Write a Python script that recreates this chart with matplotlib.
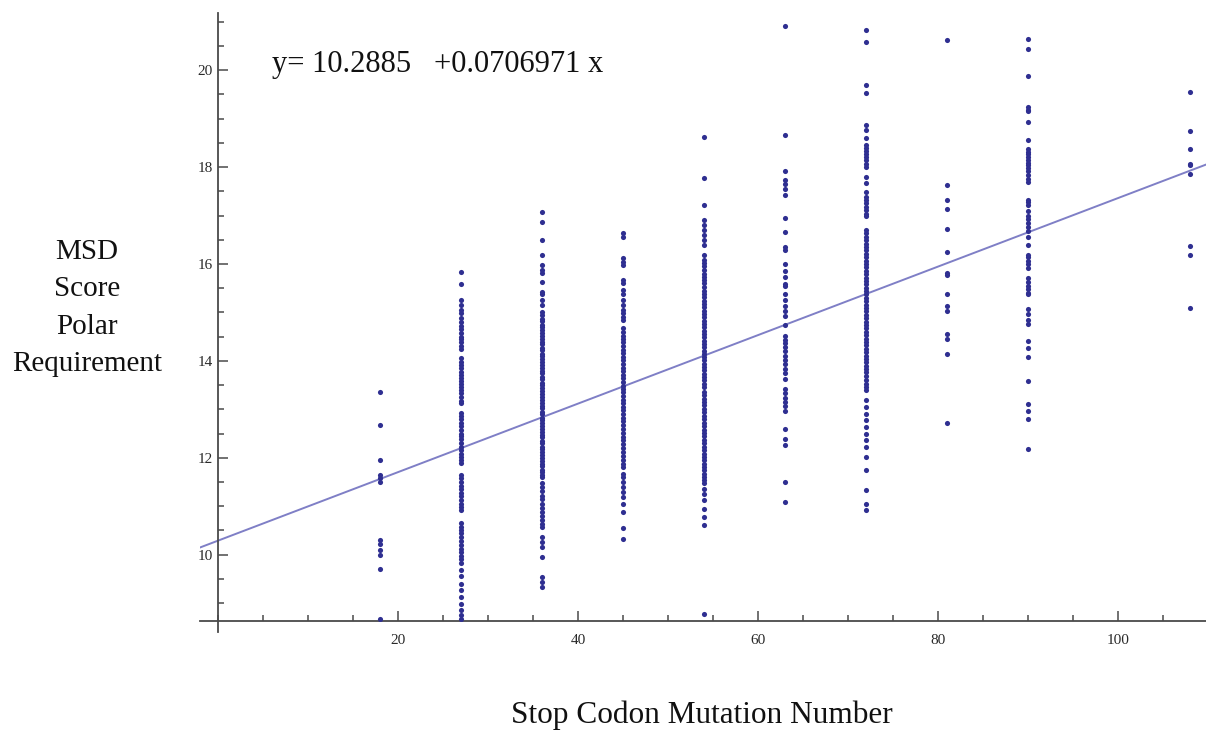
import numpy as np
import matplotlib
matplotlib.use('Agg')
import matplotlib.pyplot as plt
from matplotlib.ticker import MultipleLocator

plt.rcParams['font.family'] = ['Liberation Serif', 'DejaVu Serif']

# ===========DATA==============================================================
# stop codon mutation numbers (one column of points each)
stops = [18, 27, 36, 45, 54, 63, 72, 81, 90, 108]

msd_18 = [13.36, 12.67, 11.95, 11.64, 11.58, 11.49, 10.31, 10.21, 10.10, 9.99,
          9.71, 8.68]

msd_27 = [15.84, 15.58, 15.25, 15.15, 15.05, 14.98, 14.88, 14.80, 14.72, 14.65,
          14.58, 14.50, 14.45, 14.38, 14.30, 14.25, 14.05, 13.98, 13.92, 13.85,
          13.78, 13.70, 13.65, 13.58, 13.52, 13.45, 13.40, 13.33, 13.25, 13.18,
          13.12, 12.92, 12.86, 12.80, 12.72, 12.65, 12.58, 12.50, 12.45, 12.38,
          12.30, 12.22, 12.15, 12.08, 12.02, 11.95, 11.89, 11.64, 11.58, 11.50,
          11.42, 11.35, 11.28, 11.20, 11.12, 11.05, 10.98, 10.92, 10.65, 10.58,
          10.50, 10.44, 10.36, 10.28, 10.20, 10.12, 10.05, 9.98, 9.90, 9.82,
          9.68, 9.55, 9.40, 9.26, 9.12, 8.98, 8.85, 8.75, 8.68]

msd_36 = [17.08, 16.87, 16.49, 16.18, 15.98, 15.87, 15.81, 15.63, 15.43, 15.39,
          15.25, 15.15, 15.01, 14.95, 14.87, 14.82, 14.75, 14.70, 14.63, 14.58,
          14.51, 14.46, 14.39, 14.34, 14.27, 14.22, 14.15, 14.10, 14.03, 13.98,
          13.91, 13.86, 13.79, 13.74, 13.67, 13.62, 13.55, 13.50, 13.43, 13.38,
          13.31, 13.26, 13.19, 13.14, 13.07, 13.02, 12.95, 12.90, 12.83, 12.78,
          12.71, 12.66, 12.59, 12.54, 12.47, 12.42, 12.35, 12.30, 12.23, 12.18,
          12.11, 12.06, 11.99, 11.94, 11.87, 11.82, 11.75, 11.70, 11.64, 11.60,
          11.47, 11.40, 11.31, 11.22, 11.15, 11.05, 10.96, 10.88, 10.80, 10.72,
          10.64, 10.57, 10.36, 10.26, 10.16, 9.95, 9.54, 9.43, 9.33]

msd_45 = [16.63, 16.56, 16.12, 16.05, 15.98, 15.67, 15.60, 15.46, 15.39, 15.25,
          15.15, 15.05, 14.98, 14.91, 14.84, 14.67, 14.60, 14.52, 14.45, 14.38,
          14.30, 14.23, 14.16, 14.08, 14.01, 13.94, 13.86, 13.79, 13.71, 13.64,
          13.57, 13.49, 13.42, 13.35, 13.27, 13.20, 13.12, 13.05, 12.98, 12.91,
          12.83, 12.75, 12.67, 12.59, 12.51, 12.43, 12.36, 12.28, 12.20, 12.12,
          12.04, 11.96, 11.88, 11.81, 11.67, 11.60, 11.50, 11.40, 11.29, 11.19,
          11.05, 10.88, 10.54, 10.33]

msd_54 = [18.63, 17.77, 17.22, 16.91, 16.80, 16.70, 16.60, 16.49, 16.39, 16.18,
          16.08, 16.01, 15.95, 15.88, 15.80, 15.74, 15.66, 15.60, 15.53, 15.45,
          15.39, 15.32, 15.24, 15.18, 15.11, 15.03, 14.97, 14.90, 14.83, 14.76,
          14.70, 14.62, 14.55, 14.49, 14.41, 14.35, 14.28, 14.21, 14.14, 14.08,
          14.01, 13.94, 13.87, 13.81, 13.73, 13.66, 13.60, 13.53, 13.46, 13.36,
          13.29, 13.22, 13.15, 13.08, 13.01, 12.94, 12.87, 12.80, 12.72, 12.66,
          12.58, 12.51, 12.44, 12.37, 12.30, 12.22, 12.15, 12.08, 12.02, 11.95,
          11.88, 11.81, 11.74, 11.67, 11.60, 11.54, 11.47, 11.36, 11.26, 11.12,
          10.95, 10.78, 10.61, 8.78]

msd_63 = [20.91, 18.66, 17.91, 17.73, 17.65, 17.54, 17.43, 16.95, 16.66, 16.36,
          16.29, 15.99, 15.85, 15.73, 15.59, 15.55, 15.37, 15.25, 15.14, 15.03,
          14.92, 14.74, 14.52, 14.44, 14.37, 14.28, 14.20, 14.11, 14.02, 13.93,
          13.84, 13.75, 13.63, 13.41, 13.33, 13.24, 13.15, 13.06, 12.97, 12.60,
          12.38, 12.27, 11.49, 11.08]

msd_72 = [20.83, 20.59, 19.70, 19.52, 18.87, 18.76, 18.59, 18.46, 18.40, 18.33,
          18.27, 18.20, 18.14, 18.07, 18.01, 17.80, 17.67, 17.49, 17.39, 17.32,
          17.25, 17.18, 17.11, 17.04, 16.98, 16.70, 16.63, 16.56, 16.49, 16.42,
          16.35, 16.28, 16.21, 16.14, 16.07, 16.00, 15.93, 15.86, 15.79, 15.72,
          15.65, 15.58, 15.51, 15.44, 15.37, 15.30, 15.23, 15.16, 15.09, 15.02,
          14.95, 14.88, 14.81, 14.74, 14.67, 14.60, 14.53, 14.46, 14.39, 14.32,
          14.25, 14.18, 14.11, 14.04, 13.97, 13.90, 13.83, 13.76, 13.69, 13.60,
          13.53, 13.46, 13.39, 13.19, 13.05, 12.91, 12.77, 12.64, 12.50, 12.36,
          12.22, 12.02, 11.74, 11.33, 11.05, 10.92]

msd_81 = [20.63, 17.62, 17.33, 17.14, 16.73, 16.25, 15.81, 15.77, 15.37, 15.14,
          15.03, 14.55, 14.46, 14.15, 12.71]

msd_90 = [20.64, 20.43, 19.87, 19.24, 19.18, 19.15, 18.94, 18.55, 18.37, 18.32,
          18.26, 18.21, 18.15, 18.09, 18.04, 17.98, 17.91, 17.84, 17.76, 17.70,
          17.33, 17.28, 17.21, 17.10, 16.99, 16.92, 16.84, 16.77, 16.67, 16.55,
          16.40, 16.18, 16.14, 16.07, 15.99, 15.92, 15.70, 15.62, 15.55, 15.48,
          15.40, 15.37, 15.07, 14.96, 14.85, 14.77, 14.40, 14.26, 14.07, 13.59,
          13.11, 12.97, 12.80, 12.19]

msd_108 = [19.55, 18.74, 18.38, 18.07, 18.04, 17.85, 16.38, 16.18, 15.09]

# fitted line shown in the chart
intercept = 10.2885
slope = 0.0706971
# =============================================================================

columns = [msd_18, msd_27, msd_36, msd_45, msd_54, msd_63, msd_72, msd_81,
           msd_90, msd_108]
xs, ys = [], []
for s, col in zip(stops, columns):
    xs += [s] * len(col)
    ys += col

fig = plt.figure(figsize=(12.06, 7.32), dpi=100)
ax = fig.add_axes([200/1206, 1 - 621/732, 1006/1206, 608/732])

xmin, xmax = -2, 109.8
ymin, ymax = 8.63, 21.18

xl = np.array([xmin, xmax])
ax.plot(xl, intercept + slope*xl, color='#7f7fc6', lw=1.4, zorder=2)
ax.plot(xs, ys, 'o', color='#2f2f91', ms=3.7, mew=0, zorder=3)

ax.set_xlim(xmin, xmax)
ax.set_ylim(ymin, ymax)

for sp in ['top', 'right']:
    ax.spines[sp].set_visible(False)
ax.spines['left'].set_position(('data', 0))
ax.spines['left'].set_bounds(8.4, ymax)
for sp in ['left', 'bottom']:
    ax.spines[sp].set_color('#4a4a4a')
    ax.spines[sp].set_linewidth(1.3)

ax.xaxis.set_minor_locator(MultipleLocator(5))
ax.yaxis.set_major_locator(MultipleLocator(2))
ax.yaxis.set_minor_locator(MultipleLocator(0.5))
ax.set_xticks([20, 40, 60, 80, 100])
ax.tick_params(which='both', direction='in', color='#4a4a4a', width=1.1,
               labelsize=11, labelcolor='#2a2a2a')
ax.tick_params(which='major', length=7)
ax.tick_params(which='minor', length=4)
ax.tick_params(axis='x', pad=9)
ax.tick_params(axis='y', pad=4)

fig.text(272/1206, 1 - 72/732, 'y= 10.2885   +0.0706971 x', fontsize=22,
         va='baseline', ha='left', color='#111111')
fig.text(87/1206, 1 - 308/732, 'MSD\nScore\nPolar\nRequirement', fontsize=21,
         ha='center', va='center', linespacing=1.56, color='#111111')
fig.text(702/1206, 1 - 715/732, 'Stop Codon Mutation Number', fontsize=22.5,
         ha='center', va='center', color='#111111')

fig.savefig('out.png', dpi=100)
